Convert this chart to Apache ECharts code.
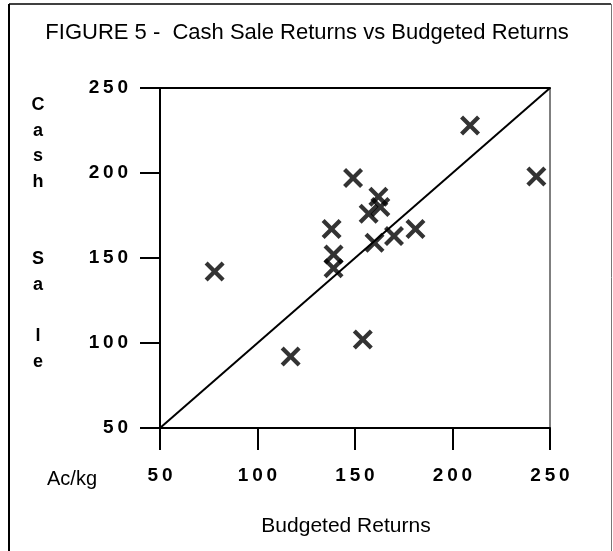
<!DOCTYPE html>
<html>
<head>
    <meta charset="utf-8">
    <title>Figure 5</title>
    <script src="https://cdn.jsdelivr.net/npm/echarts@6/dist/echarts.min.js"></script>
    <style>
        html, body { margin: 0; padding: 0; background: #fff; }
    </style>
</head>
<body>
<div id="main" style="width: 613px;height:551px;"></div>

<script type="text/javascript">
// Budgeted returns (x) and cash sale returns (y), Ac/kg
var budgeted = [78, 117, 154, 149, 138, 139, 139, 162, 163, 157, 160, 170, 181, 209, 243];
var cashSale = [142, 92, 102, 197, 167, 152, 144, 186, 180, 176, 159, 163, 167, 228, 198];
var axisTicks = [50, 100, 150, 200, 250];
var equalLine = [[50, 50], [250, 250]];

var points = [];
for (var i = 0; i < budgeted.length; i++) {
    points.push([budgeted[i], cashSale[i]]);
}

// thick X as a filled outline
var crossPath = 'path://M0,1.5L1.5,0L5,3.5L8.5,0L10,1.5L6.5,5L10,8.5L8.5,10L5,6.5L1.5,10L0,8.5L3.5,5Z';

function spaced(v) {
    return String(v).split('').join('\u2009');
}

var myChart = echarts.init(document.getElementById('main'));

var option = {
    backgroundColor: '#fff',
    animation: false,
    textStyle: { fontFamily: 'Liberation Sans' },
    grid: {
        left: 160, right: 63, top: 88, bottom: 123,
        show: true, borderColor: '#000', borderWidth: 1
    },
    xAxis: [{
        type: 'value',
        min: axisTicks[0], max: axisTicks[axisTicks.length - 1], interval: 50,
        axisLine: { lineStyle: { color: '#000', width: 2 } },
        axisTick: { show: true, length: 22, lineStyle: { color: '#000', width: 2 } },
        axisLabel: {
            margin: 38, color: '#000', fontSize: 19, fontWeight: 'bold',
            formatter: spaced
        },
        splitLine: { show: false }
    }, {
        type: 'value', position: 'top',
        min: 50, max: 250,
        axisLine: { show: true, lineStyle: { color: '#000', width: 2 } },
        axisTick: { show: false }, axisLabel: { show: false }, splitLine: { show: false }
    }],
    yAxis: {
        type: 'value',
        min: axisTicks[0], max: axisTicks[axisTicks.length - 1], interval: 50,
        axisLine: { lineStyle: { color: '#000', width: 2 } },
        axisTick: { show: true, length: 20, lineStyle: { color: '#000', width: 2 } },
        axisLabel: {
            margin: 32, color: '#000', fontSize: 19, fontWeight: 'bold',
            formatter: spaced
        },
        splitLine: { show: false }
    },
    graphic: [
        { type: 'line', shape: { x1: 9, y1: 4, x2: 9, y2: 551 }, style: { stroke: '#000', lineWidth: 2 } },
        { type: 'line', shape: { x1: 9, y1: 4, x2: 611, y2: 4 }, style: { stroke: '#000', lineWidth: 1.5 } },
        { type: 'line', shape: { x1: 611.5, y1: 4, x2: 611.5, y2: 551 }, style: { stroke: '#777', lineWidth: 1 } },
        {
            type: 'text', x: 307, y: 33,
            style: {
                text: 'FIGURE 5 -  Cash Sale Returns vs Budgeted Returns', font: '22px "Liberation Sans"',
                fill: '#000', align: 'center', verticalAlign: 'middle'
            }
        },
        {
            type: 'text', x: 38, y: 92,
            style: {
                text: 'C\na\ns\nh\n\n\nS\na\n\nl\ne', font: 'bold 18px "Liberation Sans"',
                fill: '#000', align: 'center', lineHeight: 25.7
            }
        },
        {
            type: 'text', x: 72, y: 479,
            style: { text: 'Ac/kg', font: '20px "Liberation Sans"', fill: '#000', align: 'center', verticalAlign: 'middle' }
        },
        {
            type: 'text', x: 346, y: 526,
            style: { text: 'Budgeted Returns', font: '21px "Liberation Sans"', fill: '#000', align: 'center', verticalAlign: 'middle' }
        }
    ],
    series: [{
        name: 'Equal',
        type: 'line',
        data: equalLine,
        showSymbol: false,
        lineStyle: { color: '#000', width: 2 },
        z: 2
    }, {
        name: 'Returns',
        type: 'scatter',
        data: points,
        symbol: crossPath,
        symbolSize: 20,
        itemStyle: { color: '#000' },
        z: 3
    }]
};

myChart.setOption(option);
</script>
</body>
</html>
